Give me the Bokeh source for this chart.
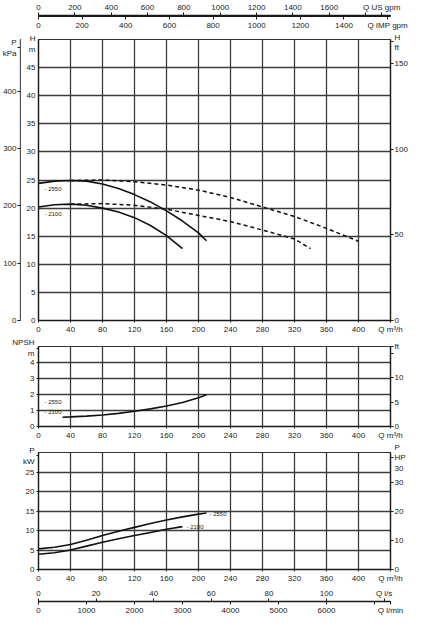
from bokeh.plotting import figure
from bokeh.layouts import column, row
from bokeh.models import Range1d, LinearAxis, FixedTicker, Label
from bokeh.core.validation import silence
from bokeh.core.validation.warnings import MISSING_RENDERERS
from bokeh.embed import file_html
from bokeh.resources import INLINE

silence(MISSING_RENDERERS, True)

# --- data (Q in m3/h) ---
# head, solid part
q_h_2550 = [0, 20, 40, 60, 80, 100, 120, 140, 160, 180, 200, 210]
h_2550 = [24.4, 24.8, 24.9, 24.8, 24.3, 23.5, 22.4, 21.1, 19.5, 17.7, 15.6, 14.2]
q_h_2100 = [0, 20, 40, 60, 80, 100, 120, 140, 160, 180]
h_2100 = [20.2, 20.6, 20.7, 20.5, 20.0, 19.3, 18.3, 16.9, 15.1, 12.8]
# head, dashed part
q_hd_2550 = [40, 80, 120, 160, 200, 240, 280, 320, 360, 400]
hd_2550 = [24.9, 25.0, 24.7, 24.1, 23.2, 21.9, 20.2, 18.5, 16.4, 14.1]
q_hd_2100 = [40, 80, 120, 160, 200, 240, 280, 320, 340]
hd_2100 = [20.7, 20.8, 20.5, 19.8, 18.7, 17.6, 16.1, 14.5, 12.8]

# NPSH
q_npsh = [30, 40, 60, 80, 100, 120, 140, 160, 180, 200, 210]
npsh = [0.58, 0.6, 0.65, 0.72, 0.82, 0.95, 1.1, 1.28, 1.5, 1.8, 1.98]

# power
q_p_2550 = [0, 20, 40, 60, 80, 100, 120, 140, 160, 180, 200, 210]
p_2550 = [5.3, 5.7, 6.4, 7.5, 8.7, 9.8, 10.8, 11.8, 12.7, 13.5, 14.2, 14.5]
q_p_2100 = [0, 20, 40, 60, 80, 100, 120, 140, 160, 180]
p_2100 = [3.9, 4.3, 5.0, 6.0, 7.0, 7.9, 8.7, 9.5, 10.3, 11.0]

# ticks
q_ticks = list(range(0, 401, 40))
h_ticks = list(range(0, 46, 5))
kpa_ticks = [0, 100, 200, 300, 400]
ft_ticks = [0, 50, 100, 150]
npsh_ticks = [0, 1, 2, 3, 4]
npsh_ft_ticks = [0, 5, 10, 15]
kw_ticks = [0, 5, 10, 15, 20, 25]
hp_ticks = [0, 10, 20, 30]
us_gpm_ticks = list(range(0, 1801, 200))
imp_gpm_ticks = list(range(0, 1601, 200))
ls_ticks = list(range(0, 121, 20))
lmin_ticks = list(range(0, 7001, 1000))

Q_MAX = 440
H_MAX = 50
NPSH_MAX = 5
P_MAX = 30

KPA_PER_M = 9.81
FT_PER_M = 3.2808
HP_PER_KW = 1 / 0.7457
US_GPM = 4.4029
IMP_GPM = 3.6662
LS = 1 / 3.6
LMIN = 1000 / 60

FONT = "Liberation Sans"
INK = "#1a1a1a"
W = 413
LEFT = 38
RIGHT = 23
KPA_W = 20          # narrow strip that carries the kPa scale
H_TOP, H_BOTTOM, H_HEIGHT = 7, 14, 304


def style_axis(ax, ticks, tick_out=3, standoff=2, overrides=None):
    ax.ticker = FixedTicker(ticks=ticks)
    ax.minor_tick_line_color = None
    ax.major_tick_in = 0
    ax.major_tick_out = tick_out
    ax.major_label_standoff = standoff
    ax.major_label_text_font = FONT
    ax.major_label_text_font_size = "8px"
    ax.major_label_text_color = INK
    ax.axis_line_color = INK
    ax.axis_line_width = 1.3
    ax.major_tick_line_color = INK
    if overrides:
        ax.major_label_overrides = overrides


def add_text(p, x, y, text, dx, dy, align="left", size="6px"):
    p.add_layout(Label(x=x, y=y, x_offset=dx, y_offset=dy, text=text,
                       text_align=align, text_baseline="middle",
                       text_font=FONT, text_font_size=size, text_color=INK))


def make_panel(height, ymax, y_ticks, top, bottom, width=W, left=LEFT):
    p = figure(width=width, height=height, x_range=Range1d(0, Q_MAX), y_range=Range1d(0, ymax),
               toolbar_location=None, output_backend="svg",
               min_border_left=left, min_border_right=RIGHT,
               min_border_top=top, min_border_bottom=bottom)
    p.outline_line_color = "#333333"
    p.outline_line_width = 1.2
    p.xgrid.ticker = FixedTicker(ticks=q_ticks)
    p.ygrid.ticker = FixedTicker(ticks=y_ticks)
    p.grid.grid_line_color = "#3c3c3c"
    p.grid.grid_line_width = 1.3
    # the unit name sits where the last tick would be
    style_axis(p.xaxis[0], q_ticks + [Q_MAX], tick_out=2, standoff=2,
               overrides={Q_MAX: "Q m³/h"})
    return p


def make_scale(height, top, bottom):
    # a one pixel high frame: its outline is the scale line
    s = figure(width=W, height=height, x_range=Range1d(0, Q_MAX), y_range=Range1d(0, 1),
               x_axis_type=None, y_axis_type=None,
               toolbar_location=None, output_backend="svg",
               min_border_left=LEFT, min_border_right=RIGHT,
               min_border_top=top, min_border_bottom=bottom)
    s.outline_line_color = INK
    s.outline_line_width = 1
    return s


# --- top flow scale: US gpm / IMP gpm ---
top = make_scale(32, 14, 17)
top.extra_x_ranges = {"us": Range1d(0, Q_MAX * US_GPM), "imp": Range1d(0, Q_MAX * IMP_GPM)}
us_name_at = 0.975 * Q_MAX * US_GPM
ax_us = LinearAxis(x_range_name="us")
style_axis(ax_us, us_gpm_ticks + [us_name_at], 3, 1,
           overrides={1800: "", us_name_at: "Q US gpm"})
top.add_layout(ax_us, "above")
ax_imp = LinearAxis(x_range_name="imp")
style_axis(ax_imp, imp_gpm_ticks, 3, 1, overrides={1600: "Q IMP gpm"})
ax_imp.axis_line_color = None
top.add_layout(ax_imp, "below")

# --- kPa strip (one pixel wide frame, outline = scale line) ---
pk = figure(width=KPA_W, height=H_HEIGHT, x_range=Range1d(0, 1),
            y_range=Range1d(0, H_MAX * KPA_PER_M), x_axis_type=None,
            toolbar_location=None, output_backend="svg",
            min_border_left=KPA_W - 1, min_border_right=0,
            min_border_top=H_TOP, min_border_bottom=H_BOTTOM)
pk.outline_line_color = INK
pk.outline_line_width = 1
pk.grid.visible = False
kpa_name_at = 476
style_axis(pk.yaxis[0], kpa_ticks + [kpa_name_at], 3, 1, overrides={kpa_name_at: "P\nkPa"})

# --- head ---
ph = make_panel(H_HEIGHT, H_MAX, h_ticks, H_TOP, H_BOTTOM, width=W - KPA_W, left=LEFT - KPA_W)
ph.extra_y_ranges = {"ft": Range1d(0, H_MAX * FT_PER_M)}
h_name_at = 49.2
hft_name_at = 162.9
style_axis(ph.yaxis[0], h_ticks + [h_name_at], tick_out=0, standoff=3,
           overrides={h_name_at: "H\nm"})
ax_ft = LinearAxis(y_range_name="ft")
style_axis(ax_ft, ft_ticks + [hft_name_at], 3, 1, overrides={hft_name_at: "H\nft"})
ph.add_layout(ax_ft, "right")

ph.line(q_h_2550, h_2550, line_color="#111111", line_width=1.6)
ph.line(q_h_2100, h_2100, line_color="#111111", line_width=1.6)
ph.line(q_hd_2550, hd_2550, line_color="#111111", line_width=1.5, line_dash="4 3")
ph.line(q_hd_2100, hd_2100, line_color="#111111", line_width=1.5, line_dash="4 3")

add_text(ph, q_h_2550[0], h_2550[0], "- 2550", 6, -6)
add_text(ph, q_h_2100[0], h_2100[0], "- 2100", 6, -7)

# --- NPSH ---
pn = make_panel(106, NPSH_MAX, npsh_ticks, 10, 14)
pn.extra_y_ranges = {"ft": Range1d(0, NPSH_MAX * FT_PER_M)}
npsh_name_at = 4.89
nft_name_at = 16.4
style_axis(pn.yaxis[0], npsh_ticks + [npsh_name_at], tick_out=2, standoff=2,
           overrides={npsh_name_at: "NPSH\nm"})
ax_nft = LinearAxis(y_range_name="ft")
style_axis(ax_nft, npsh_ft_ticks + [nft_name_at], 3, 1, overrides={15: "", nft_name_at: "ft"})
pn.add_layout(ax_nft, "right")

pn.line(q_npsh, npsh, line_color="#111111", line_width=1.6)

add_text(pn, 0, 1.55, "- 2550", 6, 0)
add_text(pn, 0, 0.9, "- 2100", 6, 0)

# --- power ---
pp = make_panel(143, P_MAX, kw_ticks, 10, 14)
pp.extra_y_ranges = {"hp": Range1d(0, P_MAX * HP_PER_KW)}
kw_name_at = 29.2
hp_name_at = 38.4
style_axis(pp.yaxis[0], kw_ticks + [kw_name_at], tick_out=2, standoff=2,
           overrides={kw_name_at: "P\nkW"})
ax_hp = LinearAxis(y_range_name="hp")
style_axis(ax_hp, hp_ticks + [hp_name_at], 3, 1, overrides={hp_name_at: "P\nHP\n30"})
pp.add_layout(ax_hp, "right")

pp.line(q_p_2550, p_2550, line_color="#111111", line_width=1.6)
pp.line(q_p_2100, p_2100, line_color="#111111", line_width=1.6)

add_text(pp, q_p_2550[-1], p_2550[-1], "- 2550", 3, -1)
add_text(pp, q_p_2100[-1], p_2100[-1], "- 2100", 4, 0)

# --- bottom flow scale: l/s / l/min ---
bot = make_scale(33, 15, 17)
lmin_end = Q_MAX * LMIN
bot.extra_x_ranges = {"ls": Range1d(0, Q_MAX * LS), "lmin": Range1d(0, lmin_end)}
ax_ls = LinearAxis(x_range_name="ls")
style_axis(ax_ls, ls_ticks, 3, 1, overrides={120: "Q l/s"})
bot.add_layout(ax_ls, "above")
ax_lmin = LinearAxis(x_range_name="lmin")
style_axis(ax_lmin, lmin_ticks + [lmin_end], 3, 1, overrides={7000: "", lmin_end: "Q l/min"})
ax_lmin.axis_line_color = None
bot.add_layout(ax_lmin, "below")

layout = column(top, row(pk, ph), pn, pp, bot)
open("out.html", "w").write(file_html(layout, INLINE))
